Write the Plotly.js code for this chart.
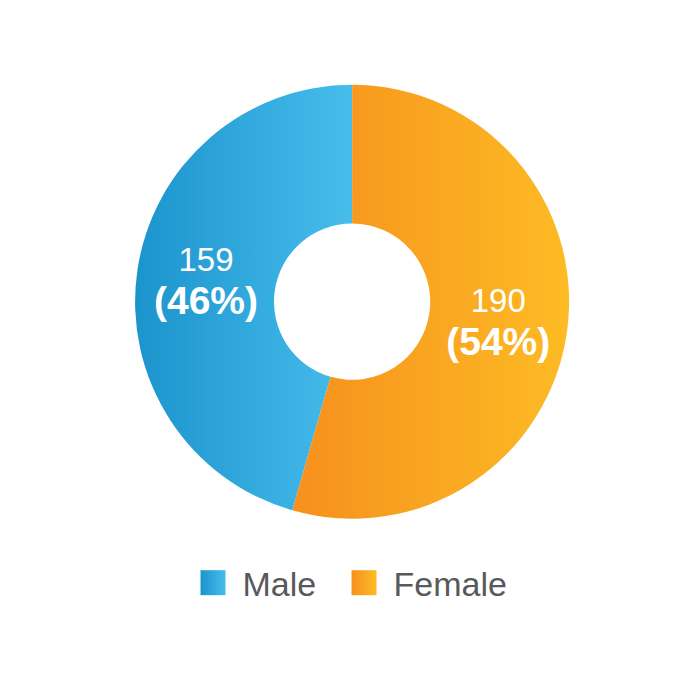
<!DOCTYPE html>
<html>
<head>
<meta charset="utf-8">
<script src="https://cdn.plot.ly/plotly-3.0.1.min.js"></script>
<style>html,body{margin:0;padding:0;background:#fff;}</style>
</head>
<body>
<svg width="0" height="0" style="position:absolute">
  <defs>
    <linearGradient id="gradMale" x1="0" y1="0" x2="1" y2="0">
      <stop offset="0" stop-color="#1b94cd"/>
      <stop offset="1" stop-color="#47bdec"/>
    </linearGradient>
    <linearGradient id="gradFemale" x1="0" y1="0" x2="1" y2="0">
      <stop offset="0" stop-color="#f6901d"/>
      <stop offset="1" stop-color="#fdbb24"/>
    </linearGradient>
  </defs>
</svg>
<div id="chart" style="width:700px;height:700px;"></div>
<script>
var categories = ["Male", "Female"];
var counts = [159, 190];
var percentLabels = ["46%", "54%"];
var sliceColors = ["#2aa8dd", "#f9a51f"];
var gradientIds = ["gradMale", "gradFemale"];

var texts = counts.map(function (c, i) {
  return c + "<br><b><span style='font-size:39px'>(" + percentLabels[i] + ")</span></b>";
});

var data = [{
  type: "pie",
  labels: categories,
  values: counts,
  text: texts,
  textinfo: "text",
  textposition: "inside",
  insidetextorientation: "horizontal",
  insidetextfont: {family: "Liberation Sans, Arial, sans-serif", size: 33, color: "#ffffff"},
  hole: 0.36,
  sort: false,
  direction: "clockwise",
  rotation: 196,
  marker: {colors: sliceColors, line: {width: 0}},
  domain: {x: [0.193, 0.813], y: [0.259, 0.879]},
  hoverinfo: "none"
}];

var layout = {
  width: 700,
  height: 700,
  margin: {l: 0, r: 0, t: 0, b: 0},
  paper_bgcolor: "#ffffff",
  showlegend: true,
  legend: {
    orientation: "h",
    x: 0.2893, xanchor: "left",
    y: 0.167, yanchor: "middle",
    entrywidth: 106,
    entrywidthmode: "pixels",
    font: {family: "Liberation Sans, Arial, sans-serif", size: 34, color: "#58595b"},
    itemclick: false
  }
};

Plotly.newPlot("chart", data, layout, {displayModeBar: false, staticPlot: true}).then(function (gd) {
  var slices = gd.querySelectorAll(".slice path.surface");
  slices.forEach(function (p, i) {
    p.style.fill = "url(#" + gradientIds[i] + ")";
  });
  var pts = gd.querySelectorAll(".legendpoints path");
  pts.forEach(function (p, i) {
    p.setAttribute("d", "M3,12.5H-22V-12.5H3Z");
    p.style.fill = "url(#" + gradientIds[i] + ")";
    p.style.strokeWidth = "0";
  });
  gd.querySelectorAll(".legend .scrollbox, .legend [clip-path]").forEach(function (el) {
    el.removeAttribute("clip-path");
  });
});
</script>
</body>
</html>
